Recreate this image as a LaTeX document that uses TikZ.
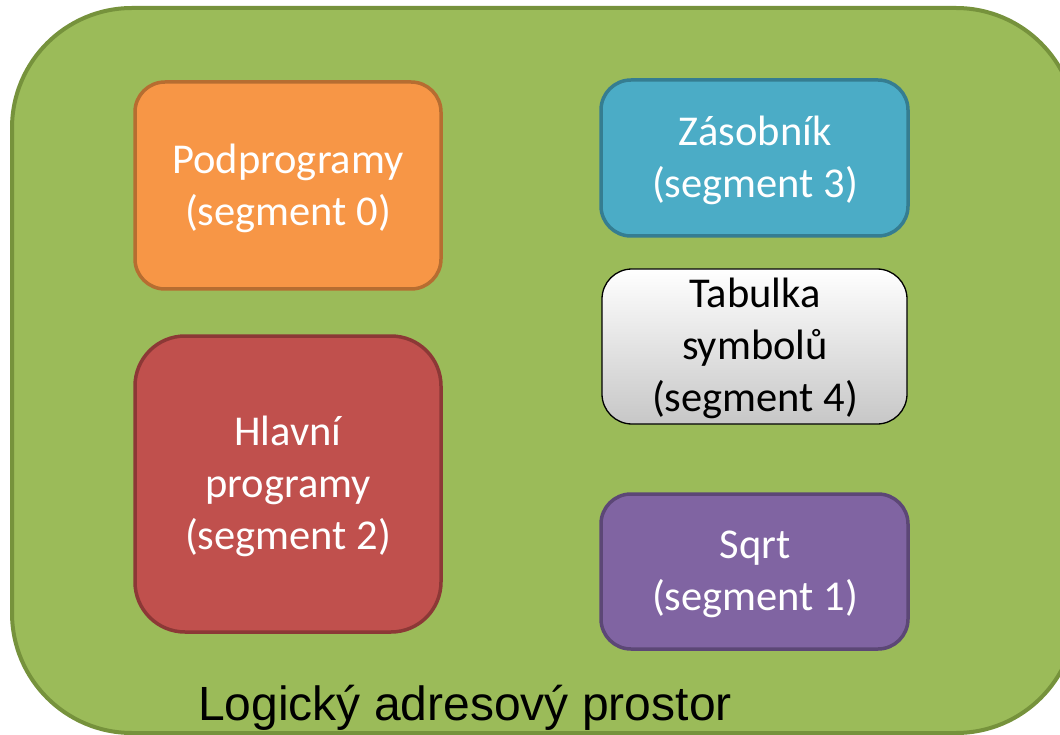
\documentclass[tikz,border=0pt]{standalone}
\usepackage{fontspec}
\setmainfont{Carlito}
\newfontfamily\arialf{Liberation Sans}
\definecolor{gfill}{HTML}{9BBB59}
\definecolor{gline}{HTML}{76923C}
\definecolor{ofill}{HTML}{F79646}
\definecolor{oline}{HTML}{B66D31}
\definecolor{tfill}{HTML}{4BACC6}
\definecolor{tline}{HTML}{357D91}
\definecolor{rfill}{HTML}{C0504D}
\definecolor{rline}{HTML}{8C3836}
\definecolor{pfill}{HTML}{8064A2}
\definecolor{pline}{HTML}{5C4776}
\begin{document}
\begin{tikzpicture}[x=1pt,y=-1pt,
  segbox/.style={rounded corners=30pt, line width=3.5pt},
  lbl/.style={font=\fontsize{42.5}{52}\selectfont, align=center}]
\useasboundingbox (0,0) rectangle (1060,735);
\clip (0,0) rectangle (1060,735);
\filldraw[fill=gfill, draw=gline, line width=4pt, rounded corners=120pt] (12,8) rectangle (1076,733);
\filldraw[segbox, fill=ofill, draw=oline] (135,82) rectangle (441,289);
\node[lbl, text=white] (s0) at (288,188) {Podprogramy\\(segment 0)};
\filldraw[segbox, fill=tfill, draw=tline] (601,80) rectangle (908,236);
\node[lbl, text=white] (s3) at (755,160) {Zásobník\\(segment 3)};
\shade[top color=white, bottom color=black!22, rounded corners=30pt] (602,269) rectangle (907,424);
\draw[black, line width=1.3pt, rounded corners=30pt] (602,269) rectangle (907,424);
\node[lbl, text=black] (s4) at (755,348) {Tabulka\\symbolů\\(segment 4)};
\filldraw[segbox, rounded corners=50pt, fill=rfill, draw=rline] (135,336) rectangle (441,632);
\node[lbl, text=white] (s2) at (288,486) {Hlavní\\programy\\(segment 2)};
\filldraw[segbox, fill=pfill, draw=pline] (601,494) rectangle (908,649);
\node[lbl, text=white] (s1) at (755,574) {Sqrt\\(segment 1)};
\node[font=\arialf\fontsize{48}{54}\selectfont, text=black] (title) at (465,708) {Logický adresový prostor};
\end{tikzpicture}
\end{document}
